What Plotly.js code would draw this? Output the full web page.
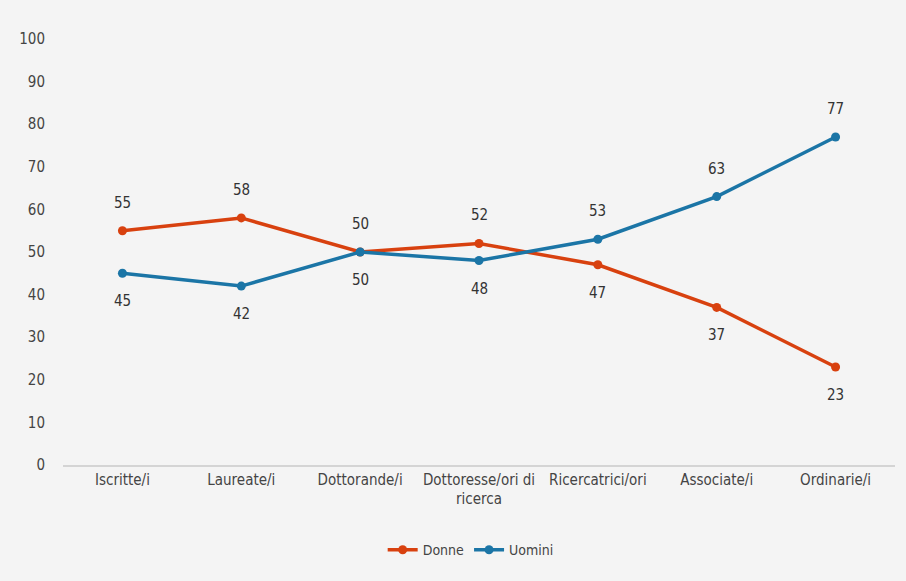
<!DOCTYPE html>
<html><head><meta charset="utf-8">
<script src="https://cdn.plot.ly/plotly-3.0.1.min.js"></script>
<style>html,body{margin:0;padding:0;background:#f4f4f4;}</style>
</head><body>
<div id="chart" style="width:906px;height:581px;"></div>
<script>
const categories = ["Iscritte/i","Laureate/i","Dottorande/i","Dottoresse/ori di<br>ricerca","Ricercatrici/ori","Associate/i","Ordinarie/i"];
const donne = [55,58,50,52,47,37,23];
const uomini = [45,42,50,48,53,63,77];
const donnePos = ["above","above","above","above","below","below","below"];
const uominiPos = ["below","below","below","below","above","above","above"];

const red = "#d8410f";
const blue = "#1b75a6";
const font = "'Liberation Sans Narrow','DejaVu Sans Condensed',Roboto,sans-serif";

const traces = [
  {x: categories, y: donne, name: "Donne", type: "scatter", mode: "lines+markers",
   line: {color: red, width: 3.5}, marker: {color: red, size: 9}},
  {x: categories, y: uomini, name: "Uomini", type: "scatter", mode: "lines+markers",
   line: {color: blue, width: 3.5}, marker: {color: blue, size: 9}}
];

const annotations = [];
function addLabels(vals, pos) {
  vals.forEach((v, i) => {
    annotations.push({x: categories[i], y: v, text: String(v), showarrow: false,
      yshift: pos[i] === "above" ? 28 : -28,
      font: {family: font, size: 15, color: "#333"}});
  });
}
addLabels(donne, donnePos);
addLabels(uomini, uominiPos);

const layout = {
  width: 906, height: 581,
  paper_bgcolor: "#f4f4f4", plot_bgcolor: "#f4f4f4",
  margin: {l: 63, r: 11, t: 39, b: 116},
  font: {family: font, size: 14, color: "#444"},
  xaxis: {type: "category", range: [-0.5, 6.5], showgrid: false, zeroline: false,
    showline: true, linecolor: "#d4d4d4", linewidth: 1.5, ticks: "",
    tickfont: {family: font, size: 15, color: "#444"}},
  yaxis: {range: [0, 100], dtick: 10, showgrid: false, zeroline: false, showline: false,
    ticks: "outside", ticklen: 14, tickcolor: "rgba(0,0,0,0)",
    tickfont: {family: font, size: 15, color: "#444"}},
  showlegend: true,
  legend: {orientation: "h", x: 0.49, xanchor: "center", y: -0.2, yanchor: "middle",
    font: {family: font, size: 14, color: "#444"}, bgcolor: "rgba(0,0,0,0)"},
  annotations: annotations
};
Plotly.newPlot("chart", traces, layout, {displayModeBar: false});
</script>
</body></html>
